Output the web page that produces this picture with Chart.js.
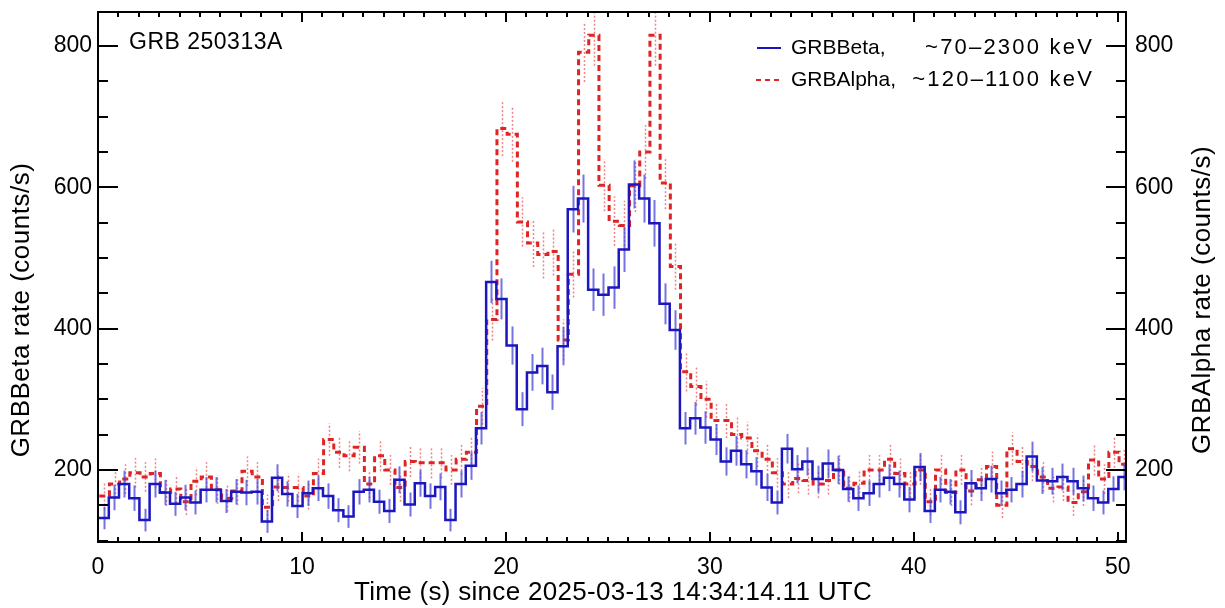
<!DOCTYPE html>
<html>
<head>
<meta charset="utf-8">
<script src="https://cdn.jsdelivr.net/npm/chart.js@4.4.1/dist/chart.umd.min.js"></script>
<style>
html, body { margin: 0; padding: 0; background: #fff; }
</style>
</head>
<body>
<canvas id="myChart" width="1225" height="608"></canvas>
<script>
// light curves, 0.5 s bins, counts/s
const betaRate = [
    132, 161, 180, 160, 129, 180, 168, 152, 161, 154,
    172, 172, 156, 169, 168, 169, 127, 189, 166, 149,
    167, 174, 163, 143, 134, 169, 172, 155, 142, 186,
    151, 181, 163, 176, 129, 180, 206, 259, 466, 442,
    376, 286, 338, 347, 310, 375, 569, 584, 455, 448,
    458, 512, 604, 584, 549, 435, 398, 259, 273, 260,
    243, 212, 227, 208, 198, 175, 154, 230, 201, 212,
    187, 209, 200, 173, 160, 167, 180, 189, 180, 158,
    204, 142, 172, 169, 140, 181, 174, 187, 167, 172,
    180, 219, 185, 184, 190, 184, 174, 160, 154, 173,
    190
];
const betaErr = [
    16, 18, 19, 18, 16, 19, 18, 17, 18, 17,
    18, 18, 17, 18, 18, 18, 16, 19, 18, 17,
    18, 18, 18, 17, 16, 18, 18, 17, 17, 19,
    17, 19, 18, 19, 16, 19, 20, 23, 30, 29,
    27, 24, 26, 26, 25, 27, 33, 34, 30, 30,
    30, 32, 34, 34, 33, 29, 28, 23, 23, 23,
    22, 20, 21, 20, 20, 19, 17, 21, 20, 20,
    19, 20, 20, 18, 18, 18, 19, 19, 19, 18,
    20, 17, 18, 18, 17, 19, 18, 19, 18, 18,
    19, 21, 19, 19, 19, 19, 18, 18, 17, 18,
    19
];
const alphaRate = [
    163, 180, 187, 196, 190, 195, 168, 173, 155, 184,
    190, 172, 160, 170, 198, 190, 147, 176, 175, 175,
    163, 195, 243, 225, 220, 232, 180, 220, 200, 175,
    212, 210, 210, 210, 200, 215, 225, 290, 413, 683,
    675, 551, 521, 505, 509, 384, 477, 791, 815, 603,
    552, 546, 602, 650, 815, 606, 488, 339, 318, 300,
    270, 270, 250, 245, 227, 215, 196, 180, 188, 185,
    180, 185, 200, 174, 181, 200, 200, 215, 195, 180,
    200, 155, 200, 168, 200, 170, 186, 205, 150, 230,
    212, 205, 190, 174, 176, 154, 169, 214, 187, 225,
    208
];
const alphaErr = [
    19, 20, 21, 21, 21, 21, 19, 20, 19, 20,
    21, 20, 19, 20, 21, 21, 18, 20, 20, 20,
    19, 21, 23, 22, 22, 23, 20, 22, 21, 20,
    22, 22, 22, 22, 21, 22, 22, 26, 30, 39,
    39, 35, 34, 34, 34, 29, 33, 42, 43, 37,
    35, 35, 37, 38, 43, 37, 33, 28, 27, 26,
    25, 25, 24, 23, 23, 22, 21, 20, 21, 20,
    20, 20, 21, 20, 20, 21, 21, 22, 21, 20,
    21, 19, 21, 19, 21, 20, 20, 21, 18, 23,
    22, 21, 21, 20, 20, 19, 20, 22, 21, 22,
    22
];
const xTicks = [0, 10, 20, 30, 40, 50];
const yTicks = [200, 400, 600, 800];

const binWidth = 0.5;
const betaStart = 0.03;
const alphaStart = 0.06;
const xMax = 50.4;
const yMin = 98, yMax = 848;

const FONT = 'Liberation Sans';
const BLUE = 'rgb(28, 22, 190)';
const RED = 'rgb(222, 36, 36)';

function StepPoints(vals, t0)
{
    var pts = vals.map((v, i) => ({ x: t0 + i * binWidth, y: v }));
    pts.push({ x: t0 + vals.length * binWidth, y: vals[vals.length - 1] });
    return pts;
}

function NoOverhang(s)
{
    s.paddingTop = 0; s.paddingBottom = 0;
    s.paddingLeft = 0; s.paddingRight = 0;
}

// error bars under each curve
const errorBars = {
    id: 'errorBars',
    beforeDatasetDraw(chart, args) {
        const ds = chart.data.datasets[args.index];
        const ctx = chart.ctx, a = chart.chartArea;
        const xs = chart.scales.x, ys = chart.scales[ds.yAxisID];
        ctx.save();
        ctx.beginPath();
        ctx.rect(a.left, a.top, a.right - a.left, a.bottom - a.top);
        ctx.clip();
        ctx.strokeStyle = ds.errColor;
        ctx.lineWidth = ds.errWidth;
        ctx.setLineDash(ds.errDash);
        ds.rates.forEach((v, i) => {
            const x = Math.round(xs.getPixelForValue(ds.t0 + (i + 0.5) * binWidth)) + 0.5;
            ctx.beginPath();
            ctx.moveTo(x, ys.getPixelForValue(v - ds.errs[i]));
            ctx.lineTo(x, ys.getPixelForValue(v + ds.errs[i]));
            ctx.stroke();
        });
        ctx.restore();
    }
};

// frame, inward ticks, titles, legend, label
const frame = {
    id: 'frame',
    afterDraw(chart) {
        const ctx = chart.ctx, a = chart.chartArea;
        const xs = chart.scales.x, ys = chart.scales.y;
        ctx.save();
        ctx.strokeStyle = '#000';
        ctx.lineWidth = 2;
        ctx.setLineDash([]);
        ctx.strokeRect(a.left, a.top, a.right - a.left, a.bottom - a.top);

        ctx.beginPath();
        for (let t = 0; t <= xMax; t += 1) {
            const x = Math.round(xs.getPixelForValue(t));
            const len = (t % 10 === 0) ? 10 : 5;
            ctx.moveTo(x, a.bottom); ctx.lineTo(x, a.bottom - len);
            ctx.moveTo(x, a.top); ctx.lineTo(x, a.top + len);
        }
        for (let v = 100; v <= yMax; v += 50) {
            const y = Math.round(ys.getPixelForValue(v));
            const len = (v % 200 === 0) ? 20 : 10;
            ctx.moveTo(a.left, y); ctx.lineTo(a.left + len, y);
            ctx.moveTo(a.right, y); ctx.lineTo(a.right - len, y);
        }
        ctx.stroke();

        ctx.fillStyle = '#000';
        ctx.font = '23px "' + FONT + '"';
        ctx.textBaseline = 'middle';
        ctx.textAlign = 'left';
        ctx.letterSpacing = '0.5px';
        ctx.fillText('GRB 250313A', 129, 43);

        // legend
        ctx.lineWidth = 2;
        ctx.strokeStyle = BLUE;
        ctx.beginPath(); ctx.moveTo(757, 48); ctx.lineTo(781, 48); ctx.stroke();
        ctx.strokeStyle = RED;
        ctx.setLineDash([5, 4]);
        ctx.beginPath(); ctx.moveTo(756, 80); ctx.lineTo(782, 80); ctx.stroke();
        ctx.setLineDash([]);
        ctx.font = '21px "' + FONT + '"';
        ctx.letterSpacing = '0px';
        ctx.fillText('GRBBeta,', 791, 48);
        ctx.fillText('GRBAlpha,', 791, 80);
        ctx.font = '22px "' + FONT + '"';
        ctx.textAlign = 'right';
        ctx.letterSpacing = '2.2px';
        ctx.fillText('~70\u20132300 keV', 1094, 48);
        ctx.fillText('~120\u20131100 keV', 1094, 80);

        // axis titles
        ctx.font = '26px "' + FONT + '"';
        ctx.textAlign = 'center';
        ctx.letterSpacing = '0.3px';
        ctx.fillText('Time (s) since 2025-03-13 14:34:14.11 UTC', 613, 593);
        ctx.letterSpacing = '0.5px';
        ctx.translate(22, 310);
        ctx.rotate(-Math.PI / 2);
        ctx.fillText('GRBBeta rate (counts/s)', 0, 0);
        ctx.rotate(Math.PI / 2);
        ctx.translate(1203 - 22, -10);
        ctx.rotate(-Math.PI / 2);
        ctx.fillText('GRBAlpha rate (counts/s)', 0, 0);
        ctx.restore();
    }
};

const tickFont = { family: FONT, size: 23 };

const config = {
    type: 'line',
    data: {
        datasets: [
            {
                label: 'GRBBeta',
                data: StepPoints(betaRate, betaStart),
                yAxisID: 'y',
                stepped: 'before',
                borderColor: BLUE,
                borderWidth: 2.5,
                pointRadius: 0,
                fill: false,
                clip: 0,
                rates: betaRate, errs: betaErr, t0: betaStart,
                errColor: 'rgba(70, 70, 215, 0.75)', errWidth: 2, errDash: []
            },
            {
                label: 'GRBAlpha',
                data: StepPoints(alphaRate, alphaStart),
                yAxisID: 'y2',
                stepped: 'before',
                borderColor: RED,
                borderWidth: 3,
                borderDash: [6, 4],
                pointRadius: 0,
                fill: false,
                clip: 0,
                rates: alphaRate, errs: alphaErr, t0: alphaStart,
                errColor: 'rgba(236, 110, 110, 0.85)', errWidth: 1.5, errDash: [2, 2]
            }
        ]
    },
    options: {
        responsive: false,
        animation: false,
        devicePixelRatio: 1,
        layout: { padding: { top: 12, left: 0, right: 0, bottom: 0 } },
        plugins: { legend: { display: false }, tooltip: { enabled: false } },
        scales: {
            x: {
                type: 'linear',
                min: 0,
                max: xMax,
                grid: { display: false, drawTicks: false },
                border: { display: false },
                ticks: { font: tickFont, color: '#000', padding: 12, maxRotation: 0 },
                afterBuildTicks: s => { s.ticks = xTicks.map(v => ({ value: v })); },
                afterFit: s => { s.height = 66; NoOverhang(s); }
            },
            y: {
                position: 'left',
                min: yMin,
                max: yMax,
                grid: { display: false, drawTicks: false },
                border: { display: false },
                ticks: { font: tickFont, color: '#000', padding: 6 },
                afterBuildTicks: s => { s.ticks = yTicks.map(v => ({ value: v })); },
                afterFit: s => { s.width = 98; NoOverhang(s); }
            },
            y2: {
                position: 'right',
                min: yMin,
                max: yMax,
                grid: { display: false, drawTicks: false },
                border: { display: false },
                ticks: { font: tickFont, color: '#000', padding: 9 },
                afterBuildTicks: s => { s.ticks = yTicks.map(v => ({ value: v })); },
                afterFit: s => { s.width = 99; NoOverhang(s); }
            }
        }
    },
    plugins: [errorBars, frame]
};

var myChart = new Chart(document.getElementById('myChart'), config);
</script>
</body>
</html>
